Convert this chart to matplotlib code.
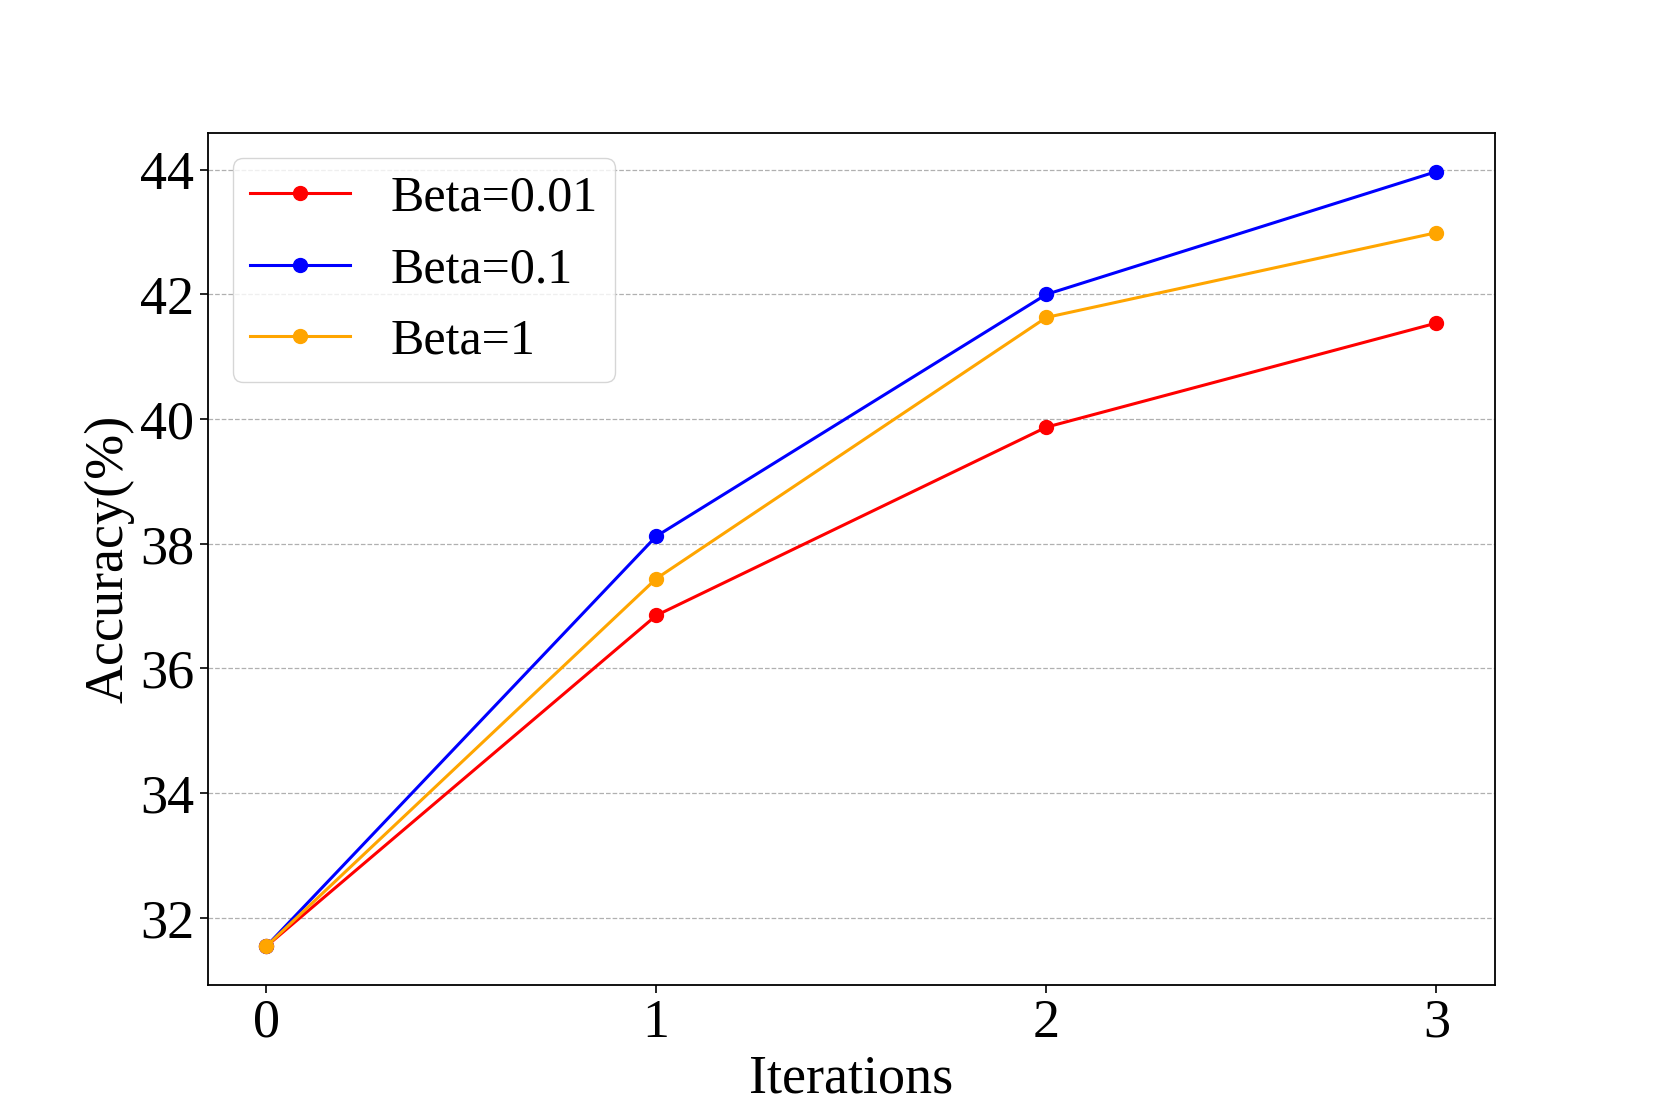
import matplotlib
matplotlib.use("Agg")
import matplotlib.pyplot as plt

iterations = [0, 1, 2, 3]
beta_001 = [31.54, 36.85, 39.87, 41.54]
beta_01 = [31.54, 38.12, 42.00, 43.97]
beta_1 = [31.54, 37.44, 41.63, 42.99]
labels = ["Beta=0.01", "Beta=0.1", "Beta=1"]
colors = ["red", "blue", "orange"]

plt.rcParams['font.family'] = ['Liberation Serif', 'DejaVu Serif']

fig, ax = plt.subplots(figsize=(16.61, 11.07), dpi=100)
for ys, lab, c in zip([beta_001, beta_01, beta_1], labels, colors):
    ax.plot(iterations, ys, marker='o', color=c, label=lab, linewidth=2.2, markersize=10)

ax.set_xticks(iterations)
ax.tick_params(axis='both', labelsize=39, length=6, width=1.2)
ax.set_xlabel("Iterations", fontsize=39)
ax.set_ylabel("Accuracy(%)", fontsize=39)
ax.yaxis.grid(True, linestyle='--', color='#b0b0b0', linewidth=0.9)
ax.legend(loc='upper left', fontsize=36, borderaxespad=0.5, borderpad=0.35)
for s in ax.spines.values():
    s.set_linewidth(1.3)

fig.savefig("out.png", dpi=100)
